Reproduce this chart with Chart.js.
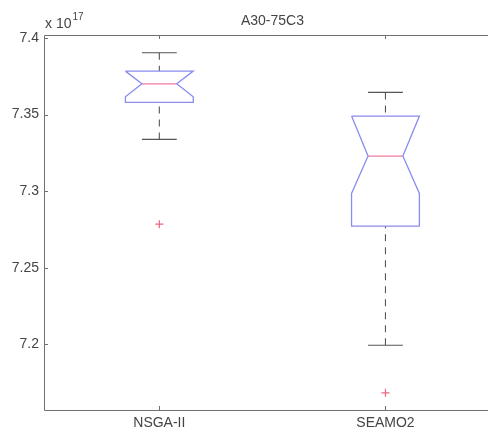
<!DOCTYPE html>
<html>
<head>
<meta charset="utf-8">
<script src="https://cdn.jsdelivr.net/npm/chart.js@4/dist/chart.umd.min.js"></script>
<style>
  html, body { margin: 0; padding: 0; background: #ffffff; overflow: hidden; width: 488px; height: 432px; }
  #wrap { position: absolute; left: 0; top: 0; width: 506px; height: 432px; }
</style>
</head>
<body>
<div id="wrap"><canvas id="c" width="506" height="432"></canvas></div>
<script>
// Notched box plot summary per algorithm (values in units of 1e17)
const categories   = ['NSGA-II', 'SEAMO2'];
const positions    = [1, 2];
const upperWhisker = [7.3904, 7.3645];
const q3           = [7.3784, 7.3490];
const median       = [7.3701, 7.3229];
const notchHigh    = [7.3784, 7.3490];
const notchLow     = [7.3616, 7.2985];
const q1           = [7.3580, 7.2771];
const lowerWhisker = [7.3338, 7.1993];
const outliers     = [[7.2784], [7.1682]];

const yTicks      = [7.2, 7.25, 7.3, 7.35, 7.4];
const yTickLabels = ['7.2', '7.25', '7.3', '7.35', '7.4'];
const exponentText = '17';
const titleText    = 'A30-75C3';

// Styling
const BOX_HALF = 0.15, NOTCH_HALF = 0.077, CAP_HALF = 0.077;
const BOX_COLOR = '#8a8cee';
const MEDIAN_COLOR = '#f07c9e';
const WHISKER_COLOR = '#555555';
const OUTLIER_COLOR = '#f0647f';
const AXIS_COLOR = '#707070';
const TEXT_COLOR = '#444444';
const FONT = 'Liberation Sans, Arial, sans-serif';

const datasets = [];
positions.forEach((p, i) => {
  // notched box outline
  datasets.push({
    data: [
      { x: p - BOX_HALF, y: q3[i] }, { x: p + BOX_HALF, y: q3[i] },
      { x: p + BOX_HALF, y: notchHigh[i] }, { x: p + NOTCH_HALF, y: median[i] },
      { x: p + BOX_HALF, y: notchLow[i] }, { x: p + BOX_HALF, y: q1[i] },
      { x: p - BOX_HALF, y: q1[i] }, { x: p - BOX_HALF, y: notchLow[i] },
      { x: p - NOTCH_HALF, y: median[i] }, { x: p - BOX_HALF, y: notchHigh[i] },
      { x: p - BOX_HALF, y: q3[i] }
    ],
    showLine: true, borderColor: BOX_COLOR, borderWidth: 1.3, pointRadius: 0,
    borderJoinStyle: 'miter', fill: false
  });
  // median
  datasets.push({
    data: [{ x: p - NOTCH_HALF, y: median[i] }, { x: p + NOTCH_HALF, y: median[i] }],
    showLine: true, borderColor: MEDIAN_COLOR, borderWidth: 1.3, pointRadius: 0
  });
  // whiskers (dashed)
  datasets.push({
    data: [{ x: p, y: upperWhisker[i] }, { x: p, y: q3[i] }],
    showLine: true, borderColor: WHISKER_COLOR, borderWidth: 1.1, borderDash: [7, 6], pointRadius: 0
  });
  datasets.push({
    data: [{ x: p, y: lowerWhisker[i] }, { x: p, y: q1[i] }],
    showLine: true, borderColor: WHISKER_COLOR, borderWidth: 1.1, borderDash: [7, 6], pointRadius: 0
  });
  // whisker caps
  datasets.push({
    data: [{ x: p - CAP_HALF, y: upperWhisker[i] }, { x: p + CAP_HALF, y: upperWhisker[i] }],
    showLine: true, borderColor: WHISKER_COLOR, borderWidth: 1.1, pointRadius: 0
  });
  datasets.push({
    data: [{ x: p - CAP_HALF, y: lowerWhisker[i] }, { x: p + CAP_HALF, y: lowerWhisker[i] }],
    showLine: true, borderColor: WHISKER_COLOR, borderWidth: 1.1, pointRadius: 0
  });
  // outliers
  datasets.push({
    data: outliers[i].map(v => ({ x: p, y: v })),
    showLine: false, pointStyle: 'cross', pointRadius: 4, borderWidth: 1.2,
    borderColor: OUTLIER_COLOR, backgroundColor: OUTLIER_COLOR
  });
});

// Frame, inward tick marks, title and exponent label
const framePlugin = {
  id: 'frame',
  afterDraw(chart) {
    const { ctx, chartArea: a, scales: { x, y } } = chart;
    ctx.save();
    ctx.strokeStyle = AXIS_COLOR;
    ctx.lineWidth = 1;
    ctx.beginPath();
    ctx.moveTo(a.right, a.top + 0.5); ctx.lineTo(a.left + 0.5, a.top + 0.5);
    ctx.lineTo(a.left + 0.5, a.bottom + 0.5); ctx.lineTo(a.right, a.bottom + 0.5);
    y.ticks.forEach(t => {
      const py = Math.round(y.getPixelForValue(t.value)) + 0.5;
      ctx.moveTo(a.left, py); ctx.lineTo(a.left + 4, py);
    });
    x.ticks.forEach(t => {
      const px = Math.round(x.getPixelForValue(t.value)) + 0.5;
      ctx.moveTo(px, a.bottom); ctx.lineTo(px, a.bottom - 4);
      ctx.moveTo(px, a.top); ctx.lineTo(px, a.top + 4);
    });
    ctx.stroke();

    ctx.fillStyle = TEXT_COLOR;
    ctx.textBaseline = 'middle';
    ctx.textAlign = 'center';
    ctx.font = '14px ' + FONT;
    ctx.fillText(titleText, (x.getPixelForValue(0.5) + x.getPixelForValue(2.5)) / 2, a.top - 14);

    ctx.textAlign = 'left';
    ctx.fillText('x 10', a.left + 1, a.top - 11);
    const w = ctx.measureText('x 10').width;
    ctx.font = '10px ' + FONT;
    ctx.fillText(exponentText, a.left + 2 + w, a.top - 18);
    ctx.restore();
  }
};

new Chart(document.getElementById('c'), {
  type: 'scatter',
  data: { datasets },
  options: {
    responsive: false,
    devicePixelRatio: 1,
    animation: false,
    layout: { padding: { top: 35, right: 5, left: 0, bottom: 0 } },
    plugins: { legend: { display: false }, tooltip: { enabled: false }, title: { display: false } },
    scales: {
      x: {
        type: 'linear', min: 0.49, max: 2.51,
        afterBuildTicks: s => { s.ticks = positions.map(v => ({ value: v })); },
        afterFit: s => { s.height = 22; },
        grid: { display: false, drawTicks: false },
        border: { display: false },
        ticks: {
          padding: 5, color: TEXT_COLOR, font: { family: FONT, size: 14 },
          callback: (v, i) => categories[i]
        }
      },
      y: {
        type: 'linear', min: 7.157, max: 7.402,
        afterBuildTicks: s => { s.ticks = yTicks.map(v => ({ value: v })); },
        afterFit: s => { s.width = 44; },
        grid: { display: false, drawTicks: false },
        border: { display: false },
        ticks: {
          padding: 5, color: TEXT_COLOR, font: { family: FONT, size: 14 },
          callback: (v, i) => yTickLabels[i]
        }
      }
    }
  },
  plugins: [framePlugin]
});
</script>
</body>
</html>
